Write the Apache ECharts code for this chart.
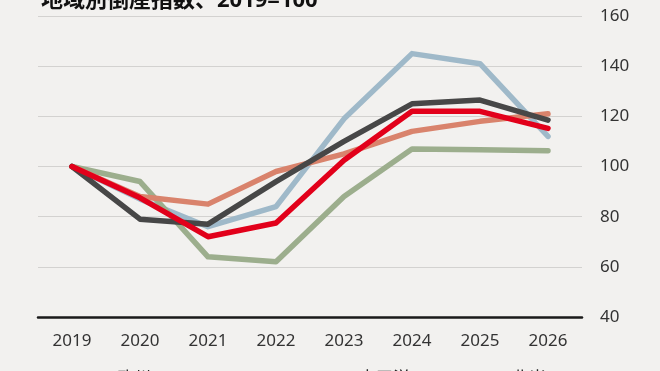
<!DOCTYPE html>
<html>
<head>
<meta charset="utf-8">
<script src="https://cdn.jsdelivr.net/npm/echarts@6/dist/echarts.min.js"></script>
<style>
html,body{margin:0;padding:0;background:#f2f1ef;}
#chart{width:660px;height:371px;}
</style>
</head>
<body>
<div id="chart"></div>
<script>
const years = ['2019','2020','2021','2022','2023','2024','2025','2026'];
const yTicks = [40, 60, 80, 100, 120, 140, 160];
const seriesNames = ['欧州', 'アジア太平洋', '北米', 'ラテンアメリカ', '世界'];
const europe = [100, 88, 85, 98, 105, 114, 118, 121];
const asiaPacific = [100, 87, 76, 84, 119, 145, 141, 112];
const northAmerica = [100, 79, 77, 94, 110, 125, 126.5, 118.5];
const latinAmerica = [100, 94, 64, 62, 88, 107, 106.7, 106.3];
const world = [100, 87.5, 72, 77.5, 102.5, 122, 122, 115.2];

const FONT = '"Noto Sans", "Noto Sans CJK JP", sans-serif';
const colors = ['#d9836c', '#9fb9c9', '#474747', '#9cae8d', '#e2001a'];
const dataArr = [europe, asiaPacific, northAmerica, latinAmerica, world];
const order = [1, 3, 0, 2, 4]; // drawing order

const chart = echarts.init(document.getElementById('chart'));
const legendPos = [
  {left: 77, top: 366},
  {left: 268, top: 366},
  {left: 472, top: 366},
  {left: 77, top: 395},
  {left: 268, top: 395}
];
chart.setOption({
  backgroundColor: '#f2f1ef',
  animation: false,
  title: {
    text: '地域別倒産指数、2019=100',
    left: 36, top: -15,
    textStyle: {fontFamily: FONT, fontSize: 22, fontWeight: 'bold', color: '#111'}
  },
  legend: seriesNames.map((n, i) => ({
    data: [n], left: legendPos[i].left, top: legendPos[i].top,
    itemWidth: 30, itemHeight: 5, itemGap: 5,
    icon: 'rect',
    textStyle: {fontFamily: FONT, fontSize: 17, color: '#222'}
  })),
  grid: {left: 38, right: 78, top: 16, bottom: 54},
  xAxis: {
    type: 'category', data: years, boundaryGap: true,
    axisLine: {lineStyle: {color: '#1a1a1a', width: 2.5}},
    axisTick: {show: false},
    axisLabel: {fontFamily: FONT, fontSize: 17, color: '#333', margin: 16}
  },
  yAxis: {
    type: 'value', position: 'right', min: yTicks[0], max: yTicks[yTicks.length-1], interval: 20,
    axisLine: {show: false}, axisTick: {show: false},
    splitLine: {lineStyle: {color: '#d3d2d0', width: 1}},
    axisLabel: {fontFamily: FONT, fontSize: 17, color: '#333', margin: 18, align: 'left'}
  },
  series: order.map(i => ({
    name: seriesNames[i], type: 'line', data: dataArr[i],
    symbol: 'none', smooth: false,
    lineStyle: {color: colors[i], width: 5.5, cap: 'round', join: 'round'},
    itemStyle: {color: colors[i]}
  }))
});
</script>
</body>
</html>
